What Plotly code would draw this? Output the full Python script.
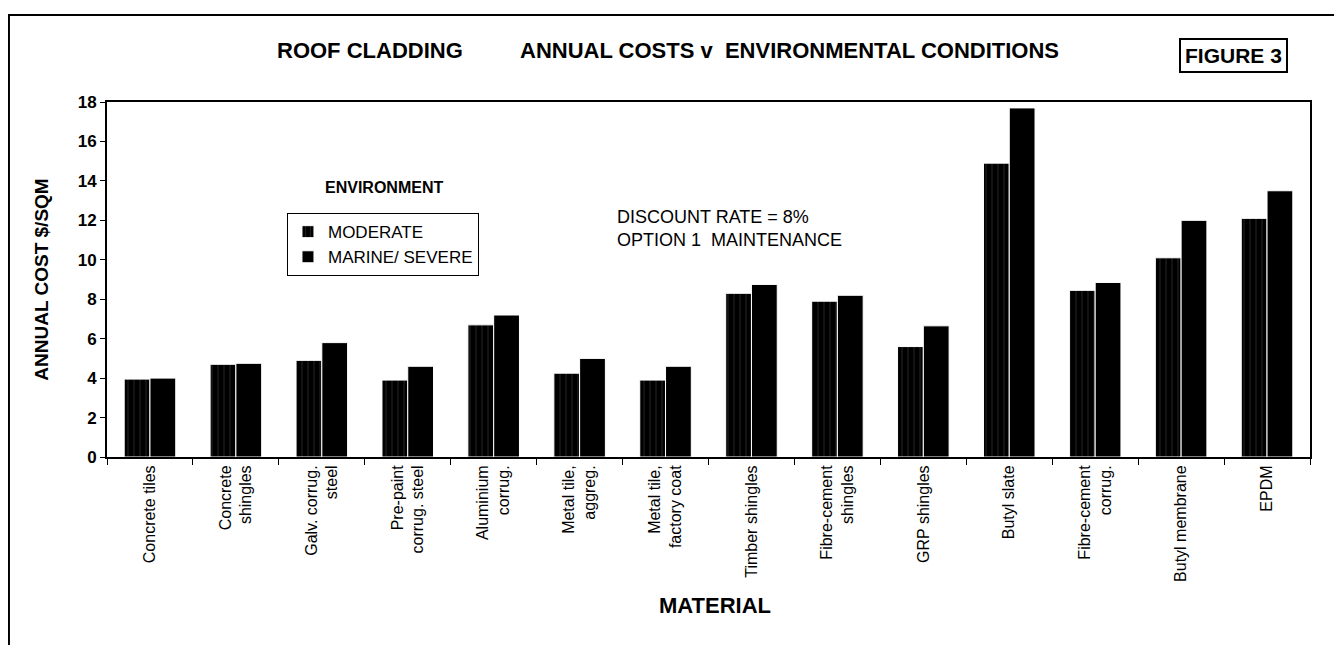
import plotly.graph_objects as go

materials = [
    "Concrete tiles", "Concrete<br>shingles", "Galv. corrug.<br>steel",
    "Pre-paint<br>corrug. steel", "Aluminium<br>corrug.", "Metal tile,<br>aggreg.",
    "Metal tile,<br>factory coat", "Timber shingles", "Fibre-cement<br>shingles",
    "GRP shingles", "Butyl slate", "Fibre-cement<br>corrug.", "Butyl membrane", "EPDM",
]
moderate = [3.95, 4.7, 4.9, 3.9, 6.7, 4.25, 3.9, 8.3, 7.9, 5.6, 14.9, 8.45, 10.1, 12.1]
marine = [4.0, 4.75, 5.8, 4.6, 7.2, 5.0, 4.6, 8.75, 8.2, 6.65, 17.7, 8.85, 12.0, 13.5]
y_ticks = [0, 2, 4, 6, 8, 10, 12, 14, 16, 18]

FONT = "Liberation Sans, Arial, sans-serif"

fig = go.Figure()
fig.add_trace(go.Bar(
    x=materials, y=moderate, name="MODERATE",
    marker=dict(color="black", line=dict(color="white", width=1),
                pattern=dict(shape="|", fgcolor="#555", size=6, solidity=0.15)),
))
fig.add_trace(go.Bar(
    x=materials, y=marine, name="MARINE/ SEVERE",
    marker=dict(color="black", line=dict(color="white", width=1)),
))

fig.update_layout(
    width=1342, height=645,
    paper_bgcolor="white", plot_bgcolor="white",
    margin=dict(l=99, r=40, t=94, b=196),
    barmode="group", bargap=0.4, bargroupgap=0,
    font=dict(family=FONT, color="black"),
    showlegend=True,
    legend=dict(
        x=0.1496, y=0.687, xanchor="left", yanchor="top",
        bgcolor="white", bordercolor="black", borderwidth=1,
        font=dict(size=17, family=FONT), tracegroupgap=0,
        itemwidth=30,
    ),
    xaxis=dict(
        showline=True, linecolor="black", linewidth=2, mirror=True,
        ticks="outside", tickson="boundaries", ticklen=6, tickcolor="black",
        tickangle=-90, tickfont=dict(size=16, family=FONT),
    ),
    yaxis=dict(
        range=[0, 18], tickvals=y_ticks,
        ticktext=[f"<b>{v}</b>" for v in y_ticks],
        showline=True, linecolor="black", linewidth=2, mirror=True,
        ticks="outside", ticklen=5, tickcolor="black",
        tickfont=dict(size=17, family=FONT), showgrid=False, zeroline=False,
        title=dict(text="<b>ANNUAL COST $/SQM</b>", font=dict(size=19), standoff=24),
    ),
)

fig.add_annotation(
    xref="paper", yref="paper", x=0.219, y=1.146, xanchor="center", yanchor="middle",
    text="<b>ROOF CLADDING</b>", showarrow=False, font=dict(size=22),
)
fig.add_annotation(
    xref="paper", yref="paper", x=0.567, y=1.146, xanchor="center", yanchor="middle",
    text="<b>ANNUAL COSTS v  ENVIRONMENTAL CONDITIONS</b>", showarrow=False,
    font=dict(size=22),
)
fig.add_annotation(
    xref="paper", yref="paper", x=0.936, y=1.132, xanchor="center", yanchor="middle",
    text="<b>FIGURE 3</b>", showarrow=False, font=dict(size=21),
    bordercolor="black", borderwidth=2, borderpad=4, bgcolor="white",
)
fig.add_annotation(
    xref="paper", yref="paper", x=0.281, y=0.76, xanchor="right", yanchor="middle",
    text="<b>ENVIRONMENT</b>", showarrow=False, font=dict(size=16),
)
fig.add_annotation(
    xref="paper", yref="paper", x=0.422, y=0.71, xanchor="left", yanchor="top",
    text="DISCOUNT RATE = 8%<br>OPTION 1  MAINTENANCE", align="left",
    showarrow=False, font=dict(size=18),
)
fig.add_annotation(
    xref="paper", yref="paper", x=0.505, y=-0.417, xanchor="center", yanchor="middle",
    text="<b>MATERIAL</b>", showarrow=False, font=dict(size=22),
)
fig.add_shape(
    type="rect", xref="paper", yref="paper",
    x0=-0.0815, x1=1.0215, y0=-0.65, y1=1.245,
    line=dict(color="black", width=2),
)

fig.write_html("out.html")
